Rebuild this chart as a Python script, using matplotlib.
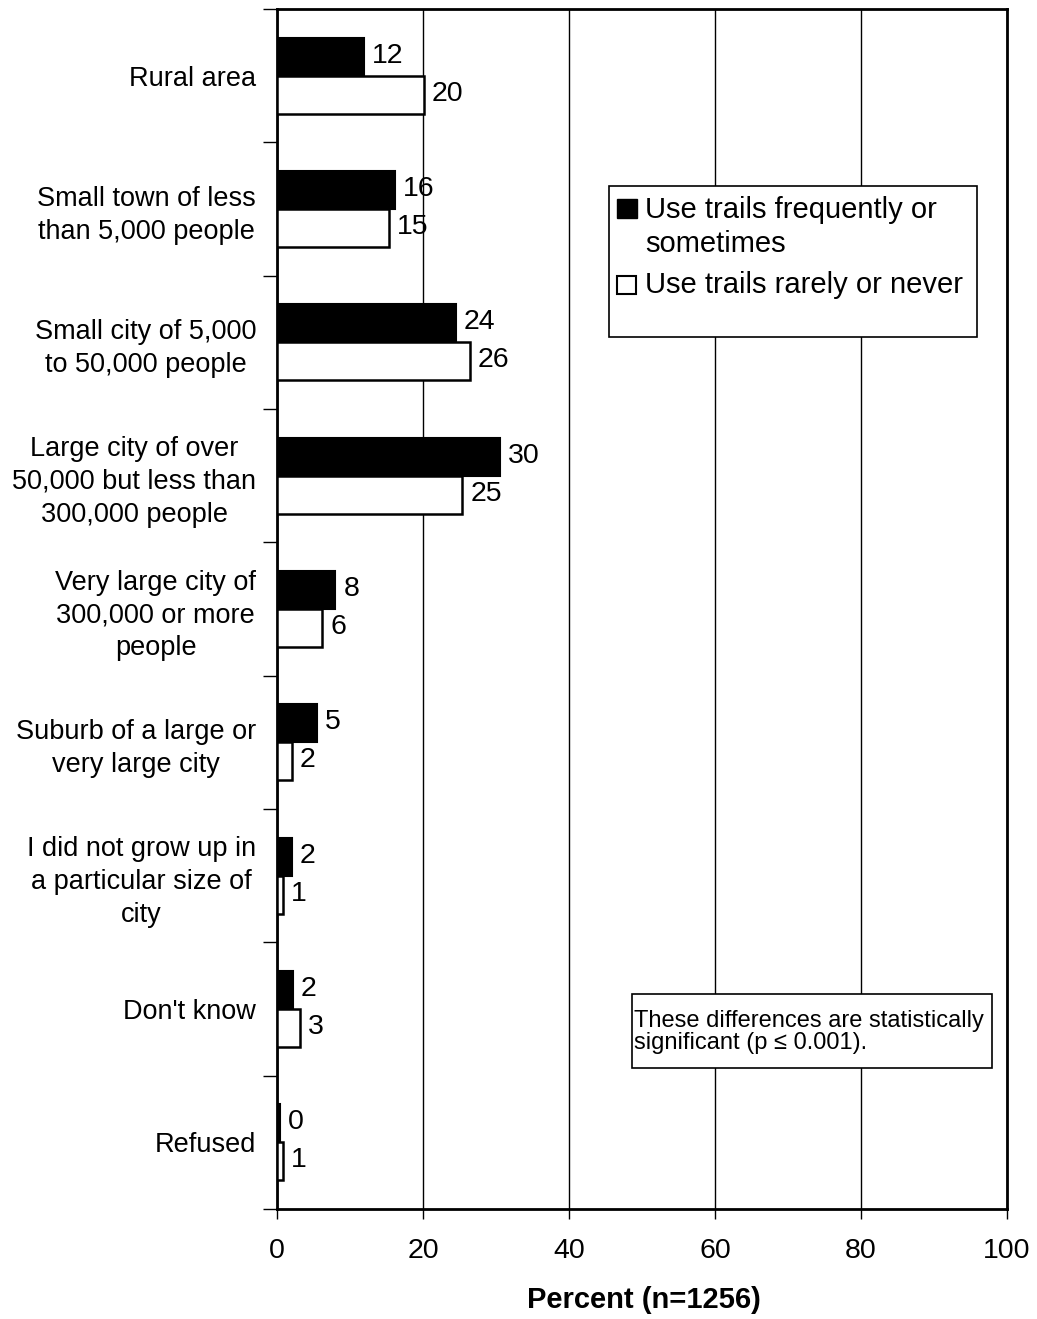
import matplotlib
matplotlib.use('Agg')
import matplotlib.pyplot as plt
import numpy as np
from matplotlib.patches import Rectangle

plt.rcParams['font.family'] = ['Liberation Sans', 'DejaVu Sans']

categories = ['Rural area',
              'Small town of less\nthan 5,000 people',
              'Small city of 5,000\nto 50,000 people',
              'Large city of over\n50,000 but less than\n300,000 people',
              'Very large city of\n300,000 or more\npeople',
              'Suburb of a large or\nvery large city',
              'I did not grow up in\na particular size of\ncity',
              "Don't know",
              'Refused']
frequent = [11.9, 16.1, 24.5, 30.5, 8.0, 5.5, 2.0, 2.2, 0.4]
rarely = [20.1, 15.3, 26.4, 25.4, 6.2, 2.0, 0.8, 3.2, 0.8]
frequent_labels = ['12', '16', '24', '30', '8', '5', '2', '2', '0']
rarely_labels = ['20', '15', '26', '25', '6', '2', '1', '3', '1']
x_ticks = [0, 20, 40, 60, 80, 100]
legend_lines = [['Use trails frequently or', 'sometimes'], ['Use trails rarely or never']]
note_lines = ['These differences are statistically', 'significant (p \u2264 0.001).']

W, H = 1037, 1319
fig = plt.figure(figsize=(W / 100, H / 100), dpi=100)
ax = fig.add_axes([277 / W, 1 - 1209 / H, 730 / W, 1200 / H])


def fx(px):
    return px / W


def fy(py):
    return 1 - py / H


y = np.arange(len(categories))
h = 0.286
ax.barh(y - h / 2, frequent, height=h, color='black', edgecolor='black', linewidth=1.5, zorder=3)
ax.barh(y + h / 2, rarely, height=h, color='white', edgecolor='black', linewidth=1.8, zorder=3)

for i in range(len(categories)):
    ax.annotate(frequent_labels[i], (frequent[i], y[i] - h / 2), xytext=(8, 1),
                textcoords='offset pixels', va='center', ha='left', fontsize=20.5, zorder=4)
    ax.annotate(rarely_labels[i], (rarely[i], y[i] + h / 2), xytext=(8, 1),
                textcoords='offset pixels', va='center', ha='left', fontsize=20.5, zorder=4)

ax.set_xlim(0, 100)
ax.set_ylim(len(categories) - 0.5, -0.5)
ax.set_xticks(x_ticks)
ax.set_xticklabels([str(t) for t in x_ticks], fontsize=20.5)
ax.set_yticks(np.arange(len(categories) + 1) - 0.5)
ax.set_yticklabels([])
ax.set_yticks(y, minor=True)
ax.set_yticklabels(categories, minor=True, fontsize=19.5, ha='right',
                   multialignment='center', linespacing=1.33)
ax.tick_params(axis='y', which='minor', length=0, pad=15)
ax.tick_params(axis='y', which='major', length=10, width=1, direction='out')
ax.tick_params(axis='x', length=7, width=1, direction='out', pad=14)
ax.grid(axis='x', color='black', linewidth=1, zorder=0)
for s in ax.spines.values():
    s.set_linewidth(2)
ax.set_xlabel('Percent (n=1256)', fontsize=21, fontweight='bold', va='baseline')
ax.xaxis.set_label_coords(0.502, (1209 - 1308) / 1200)

# legend box
fig.patches.append(Rectangle((fx(609), fy(337)), fx(368), 151 / H, transform=fig.transFigure,
                             facecolor='white', edgecolor='black', linewidth=1.2, zorder=5))
fig.patches.append(Rectangle((fx(617), fy(218)), fx(20), 19 / H, transform=fig.transFigure,
                             facecolor='black', edgecolor='black', linewidth=1, zorder=6))
fig.patches.append(Rectangle((fx(617), fy(294)), fx(19), 18 / H, transform=fig.transFigure,
                             facecolor='white', edgecolor='black', linewidth=1.5, zorder=6))
for text, base in zip(legend_lines[0] + legend_lines[1], [218, 252, 293]):
    fig.text(fx(645), fy(base), text, fontsize=21, va='baseline', ha='left', zorder=7)

# note box
fig.patches.append(Rectangle((fx(632), fy(1068)), fx(360), 74 / H, transform=fig.transFigure,
                             facecolor='white', edgecolor='black', linewidth=1.2, zorder=5))
for text, base in zip(note_lines, [1027, 1049]):
    fig.text(fx(634), fy(base), text, fontsize=17, va='baseline', ha='left', zorder=7)

fig.savefig('out.png', dpi=100)
